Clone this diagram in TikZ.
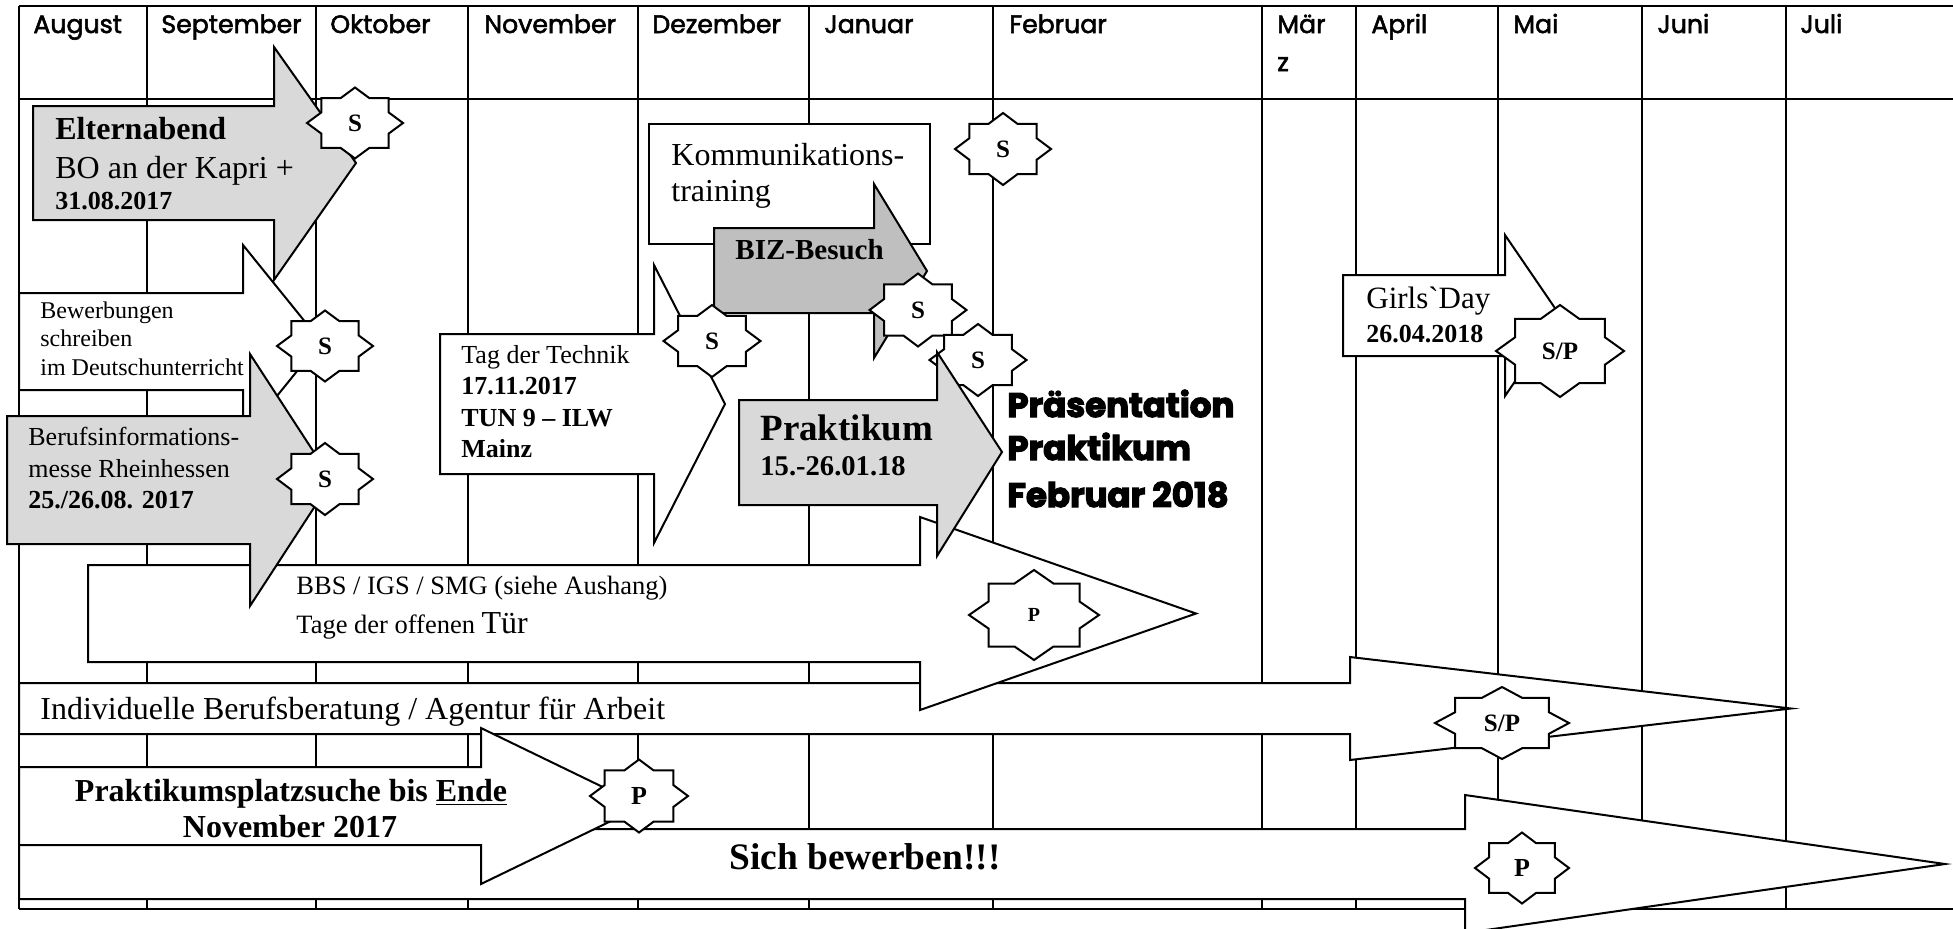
\documentclass[tikz,border=0pt]{standalone}
\usepackage{fontspec}
\setmainfont{Liberation Serif}
\setsansfont{Poppins}
\newfontfamily\monatfont{Poppins}[FakeBold=2.2]
\newfontfamily\dickfont{Poppins}[FakeBold=3.5]
\usetikzlibrary{calc}

\newcommand{\schrift}[1]{\fontsize{#1}{#1}\selectfont}
% Stern: Name, x, y, halbe Breite, halbe Hoehe, Text, Schriftgroesse
\newcommand{\stern}[7]{%
  \draw[sternlinie, shift={(#2,#3)}, xscale=#4, yscale=#5]
    (0,1) -- (.3,.7) -- (.7,.7) -- (.7,.3) -- (1,0) -- (.7,-.3) -- (.7,-.7) -- (.3,-.7)
    -- (0,-1) -- (-.3,-.7) -- (-.7,-.7) -- (-.7,-.3) -- (-1,0) -- (-.7,.3) -- (-.7,.7) -- (-.3,.7) -- cycle;
  \node[inner sep=0pt, font=\bfseries\schrift{#7}] (#1) at (#2,#3) {#6};
}

\tikzset{
  tabelle/.style={line width=1pt},
  pfeil/.style={draw, line width=1pt, fill=white, line join=miter},
  grau/.style={pfeil, fill=gray!30},
  dunkel/.style={pfeil, fill=gray!50},
  sternlinie/.style={draw, line width=1pt, fill=white},
  txt/.style={anchor=base west, inner sep=0pt},
  monat/.style={txt, font=\monatfont\schrift{12.6}},
  praes/.style={txt, font=\dickfont\bfseries\schrift{17}},
}

\begin{document}
\begin{tikzpicture}[x=0.5pt, y=-0.5pt]
    \useasboundingbox (0,0) rectangle (1953,928);

    % Tabelle mit Monatsspalten
    \draw[tabelle] (19,6) -- (1953,6) (19,99) -- (1953,99) (19,909) -- (1953,909) (19,6) -- (19,909);
    \foreach \x in {147,316,468,638,809,993,1262,1356,1498,1642,1786}
        \draw[tabelle] (\x,6) -- (\x,909);

    \node[monat] (aug) at (33,33) {August};
    \node[monat] (sep) at (161,33) {September};
    \node[monat] (okt) at (330,33) {Oktober};
    \node[monat] (nov) at (484,33) {November};
    \node[monat] (dez) at (652,33) {Dezember};
    \node[monat] (jan) at (824,33) {Januar};
    \node[monat] (feb) at (1009,33) {Februar};
    \node[monat] (mae) at (1277,33) {Mär};
    \node[monat] (maez) at (1277,71) {z};
    \node[monat] (apr) at (1371,33) {April};
    \node[monat] (mai) at (1513,33) {Mai};
    \node[monat] (jun) at (1657,33) {Juni};
    \node[monat] (jul) at (1800,33) {Juli};

    % Lange Pfeile unten
    \draw[pfeil] (19,683) -- (1350,683) -- (1350,657) -- (1791,708.5) -- (1350,760) -- (1350,734) -- (19,734) -- cycle;
    \node[txt, font=\schrift{16}] (beratung) at (40,719) {Individuelle Berufsberatung / Agentur für Arbeit};

    \draw[pfeil] (88,565) -- (920,565) -- (920,517) -- (1196,613.5) -- (920,710) -- (920,662) -- (88,662) -- cycle;
    \node[txt, font=\schrift{13.25}] (bbs) at (296,594) {BBS / IGS / SMG (siehe Aushang)};
    \node[txt, font=\schrift{13.25}] (tage) at (296,633) {Tage der offenen {\schrift{16}Tür}};

    \draw[pfeil] (19,829) -- (1465,829) -- (1465,795) -- (1945,864) -- (1465,933) -- (1465,899) -- (19,899) -- cycle;
    \node[txt, font=\bfseries\schrift{18.7}] (bewerben) at (729,869) {Sich bewerben!!!};

    \draw[pfeil] (19,767) -- (481,767) -- (481,728) -- (642,806) -- (481,884) -- (481,845) -- (19,845) -- cycle;
    \node[anchor=base, inner sep=0pt, font=\bfseries\schrift{16}] (suche) at (291,801) {Praktikumsplatzsuche bis \underline{Ende}};
    \node[anchor=base, inner sep=0pt, font=\bfseries\schrift{16}] (suche2) at (290,837) {November 2017};

    % Termine links
    \draw[pfeil] (19,293) -- (243,293) -- (243,245) -- (321,341.5) -- (243,438) -- (243,390) -- (19,390) -- cycle;
    \node[txt, font=\schrift{12}] (bew1) at (40,318) {Bewerbungen};
    \node[txt, font=\schrift{12}] (bew2) at (40,346) {schreiben};
    \node[txt, font=\schrift{12}] (bew3) at (40,375) {im Deutschunterricht};

    \draw[grau] (33,106) -- (274,106) -- (274,47) -- (356,163) -- (274,280) -- (274,220) -- (33,220) -- cycle;
    \node[txt, font=\bfseries\schrift{16}] (eltern) at (55,139) {Elternabend};
    \node[txt, font=\schrift{16}] (kapri) at (55,178) {BO an der Kapri +};
    \node[txt, font=\bfseries\schrift{13}] (eltdatum) at (55,209) {31.08.2017};

    \draw[grau] (7,416) -- (250,416) -- (250,354) -- (332,480) -- (250,606) -- (250,544) -- (7,544) -- cycle;
    \node[txt, font=\schrift{13}] (messe1) at (28,445) {Berufsinformations-};
    \node[txt, font=\schrift{13}] (messe2) at (28,477) {messe Rheinhessen};
    \node[txt, font=\bfseries\schrift{13}] (messe3) at (28,508) {25./26.08. 2017};

    \stern{s1}{355}{123}{48}{35.5}{S}{12.5}
    \stern{s2}{325}{346}{48}{35.5}{S}{12.5}
    \stern{s3}{325}{479}{48}{36}{S}{12.5}

    % Termine Mitte
    \draw[pfeil] (440,334) -- (654,334) -- (654,265) -- (725,404) -- (654,543) -- (654,474) -- (440,474) -- cycle;
    \node[txt, font=\schrift{13}] (technik1) at (461,363) {Tag der Technik};
    \node[txt, font=\bfseries\schrift{13}] (technik2) at (461,394) {17.11.2017};
    \node[txt, font=\bfseries\schrift{13}] (technik3) at (461,426) {TUN 9 -- ILW};
    \node[txt, font=\bfseries\schrift{13}] (technik4) at (461,457) {Mainz};

    \draw[pfeil] (649,124) rectangle (930,244);
    \node[txt, font=\schrift{16}] (komm1) at (671,165) {Kommunikations-};
    \node[txt, font=\schrift{16}] (komm2) at (671,201) {training};

    \draw[dunkel] (714,228) -- (874,228) -- (874,184) -- (927,271) -- (874,358) -- (874,313) -- (714,313) -- cycle;
    \node[txt, font=\bfseries\schrift{14.5}] (biz) at (735,259) {BIZ-Besuch};

    \stern{s4}{1003}{149}{48}{36}{S}{12.5}
    \stern{s5}{712}{341}{48.5}{36}{S}{12.5}
    \stern{s6}{918}{310}{48.5}{36.5}{S}{12.5}
    \stern{s7}{978}{360}{48.5}{36}{S}{12.5}

    \draw[grau] (739,400) -- (937,400) -- (937,352) -- (1002,452) -- (937,556) -- (937,505) -- (739,505) -- cycle;
    \node[txt, font=\bfseries\schrift{18.5}] (prak1) at (760,440) {Praktikum};
    \node[txt, font=\bfseries\schrift{14.3}] (prak2) at (760,475) {15.-26.01.18};

    \node[praes] (praes1) at (1007,417) {Präsentation};
    \node[praes] (praes2) at (1007,460) {Praktikum};
    \node[praes] (praes3) at (1007,507) {Februar 2018};

    % Girls'Day
    \draw[pfeil] (1343,275) -- (1505,275) -- (1505,235) -- (1560,315.5) -- (1505,396) -- (1505,356) -- (1343,356) -- cycle;
    \node[txt, font=\schrift{15.5}] (girls) at (1366,308) {Girls\textasciigrave Day};
    \node[txt, font=\bfseries\schrift{13}] (girlsdatum) at (1366,342) {26.04.2018};
    \stern{s8}{1560}{351}{64}{46}{S/P}{12.5}

    % Sterne auf den langen Pfeilen
    \stern{p1}{1034}{615}{65}{45}{P}{10}
    \stern{sp2}{1502}{723}{67}{36}{S/P}{12.5}
    \stern{p2}{639}{796}{49}{36.5}{P}{13}
    \stern{p3}{1522}{868}{47}{35.5}{P}{13}
\end{tikzpicture}
\end{document}
